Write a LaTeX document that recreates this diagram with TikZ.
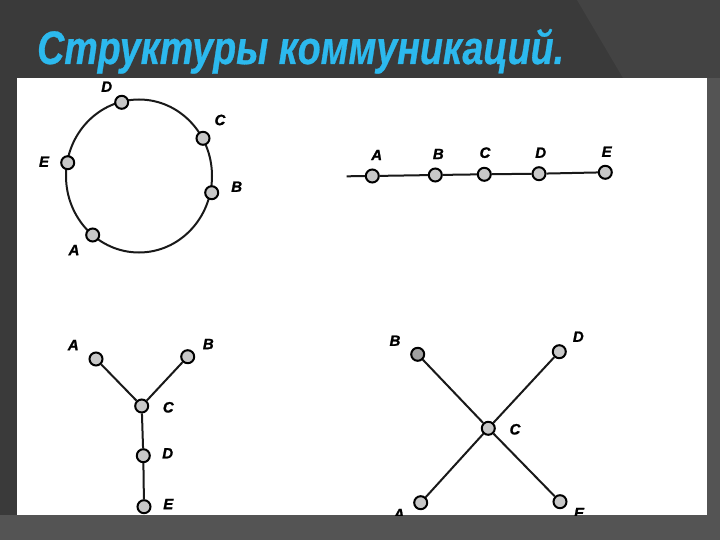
\documentclass[tikz,border=0pt]{standalone}
\usepackage{fontspec}
\setmainfont{Liberation Sans}
\newfontfamily\titlefont[FakeStretch=0.80,FakeBold=0.6]{Liberation Sans}
\newfontfamily\lblfont[FakeBold=1.2]{Liberation Sans}
\definecolor{bgdark}{HTML}{3A3A3A}
\definecolor{bglight}{HTML}{434343}
\definecolor{bgstrip}{HTML}{545454}
\definecolor{titlecol}{HTML}{2CB9EE}
\definecolor{nodefill}{HTML}{C8C8C8}
\tikzset{
  titlestyle/.style={font=\titlefont\bfseries\itshape\fontsize{47}{47}\selectfont, text=titlecol, inner sep=0pt},
  pt/.style={circle, draw=black, line width=2pt, fill=nodefill, minimum size=13pt, inner sep=0pt},
  lbl/.style={font=\lblfont\bfseries\itshape\fontsize{15}{15}\selectfont, inner sep=0pt},
  link/.style={line width=2pt, draw=black!90}
}
\begin{document}
\begin{tikzpicture}[x=1pt,y=-1pt]
\useasboundingbox (0,0) rectangle (720,540);
\fill[bgdark] (0,0) rectangle (720,540);
\fill[bglight] (577,0) -- (720,0) -- (720,78) -- (623,78) -- cycle;
\fill[bgstrip] (0,515) rectangle (720,540);
\fill[bgstrip] (707,78) rectangle (720,540);
\fill[white] (17,78) rectangle (707,515);
\node[titlestyle, anchor=base west] (title) at (37,64) {Структуры коммуникаций.};
\begin{scope}
\clip (17,78) rectangle (707,515);
% ring
\coordinate (rc) at (139,176);
\draw[link] (rc) ellipse (73 and 76.5);
\node[pt] (rD) at (121.7,102.3) {};
\node[pt] (rC) at (203,138.3) {};
\node[pt] (rB) at (211.7,192.7) {};
\node[pt] (rE) at (67.7,162.7) {};
\node[pt] (rA) at (92.7,235) {};
\node[lbl] (lrD) at (106.7,86.7) {D};
\node[lbl] (lrC) at (220,120) {C};
\node[lbl] (lrB) at (236.7,186.7) {B};
\node[lbl] (lrE) at (44,161.7) {E};
\node[lbl] (lrA) at (74,250) {A};
% bus
\coordinate (bs) at (346.7,176.3);
\node[pt] (bA) at (372.3,176) {};
\node[pt] (bB) at (435.3,175) {};
\node[pt] (bC) at (484.3,174.3) {};
\node[pt] (bD) at (539,173.7) {};
\node[pt] (bE) at (605.3,172.3) {};
\draw[link] (bs) -- (bA) -- (bB) -- (bC) -- (bD) -- (bE);
\node[lbl] (lbA) at (376.7,155) {A};
\node[lbl] (lbB) at (438.3,154) {B};
\node[lbl] (lbC) at (485,152.7) {C};
\node[lbl] (lbD) at (540.7,152.7) {D};
\node[lbl] (lbE) at (606.7,151.7) {E};
% Y
\node[pt] (yA) at (96,359) {};
\node[pt] (yB) at (187.7,356.7) {};
\node[pt] (yC) at (141.7,406) {};
\node[pt] (yD) at (143.3,455.7) {};
\node[pt] (yE) at (144,506.7) {};
\draw[link] (yA) -- (yC) (yB) -- (yC) (yC) -- (yD) (yD) -- (yE);
\node[lbl] (lyA) at (73.3,345) {A};
\node[lbl] (lyB) at (208.3,344) {B};
\node[lbl] (lyC) at (168.3,407.3) {C};
\node[lbl] (lyD) at (167.7,453.3) {D};
\node[lbl] (lyE) at (168.3,504) {E};
% X
\node[pt, fill=nodefill!80!black] (xB) at (417.7,354.3) {};
\node[pt] (xD) at (559.3,351.7) {};
\node[pt] (xC) at (488.3,428.3) {};
\node[pt] (xA) at (420.7,502.7) {};
\node[pt] (xE) at (560,501.7) {};
\draw[link] (xB) -- (xC) (xD) -- (xC) (xA) -- (xC) (xE) -- (xC);
\node[lbl] (lxB) at (395,340.7) {B};
\node[lbl] (lxD) at (578.3,336.7) {D};
\node[lbl] (lxC) at (515,429.3) {C};
\node[lbl] (lxA) at (399,514) {A};
\node[lbl] (lxE) at (579,513) {E};
\end{scope}
\end{tikzpicture}
\end{document}
